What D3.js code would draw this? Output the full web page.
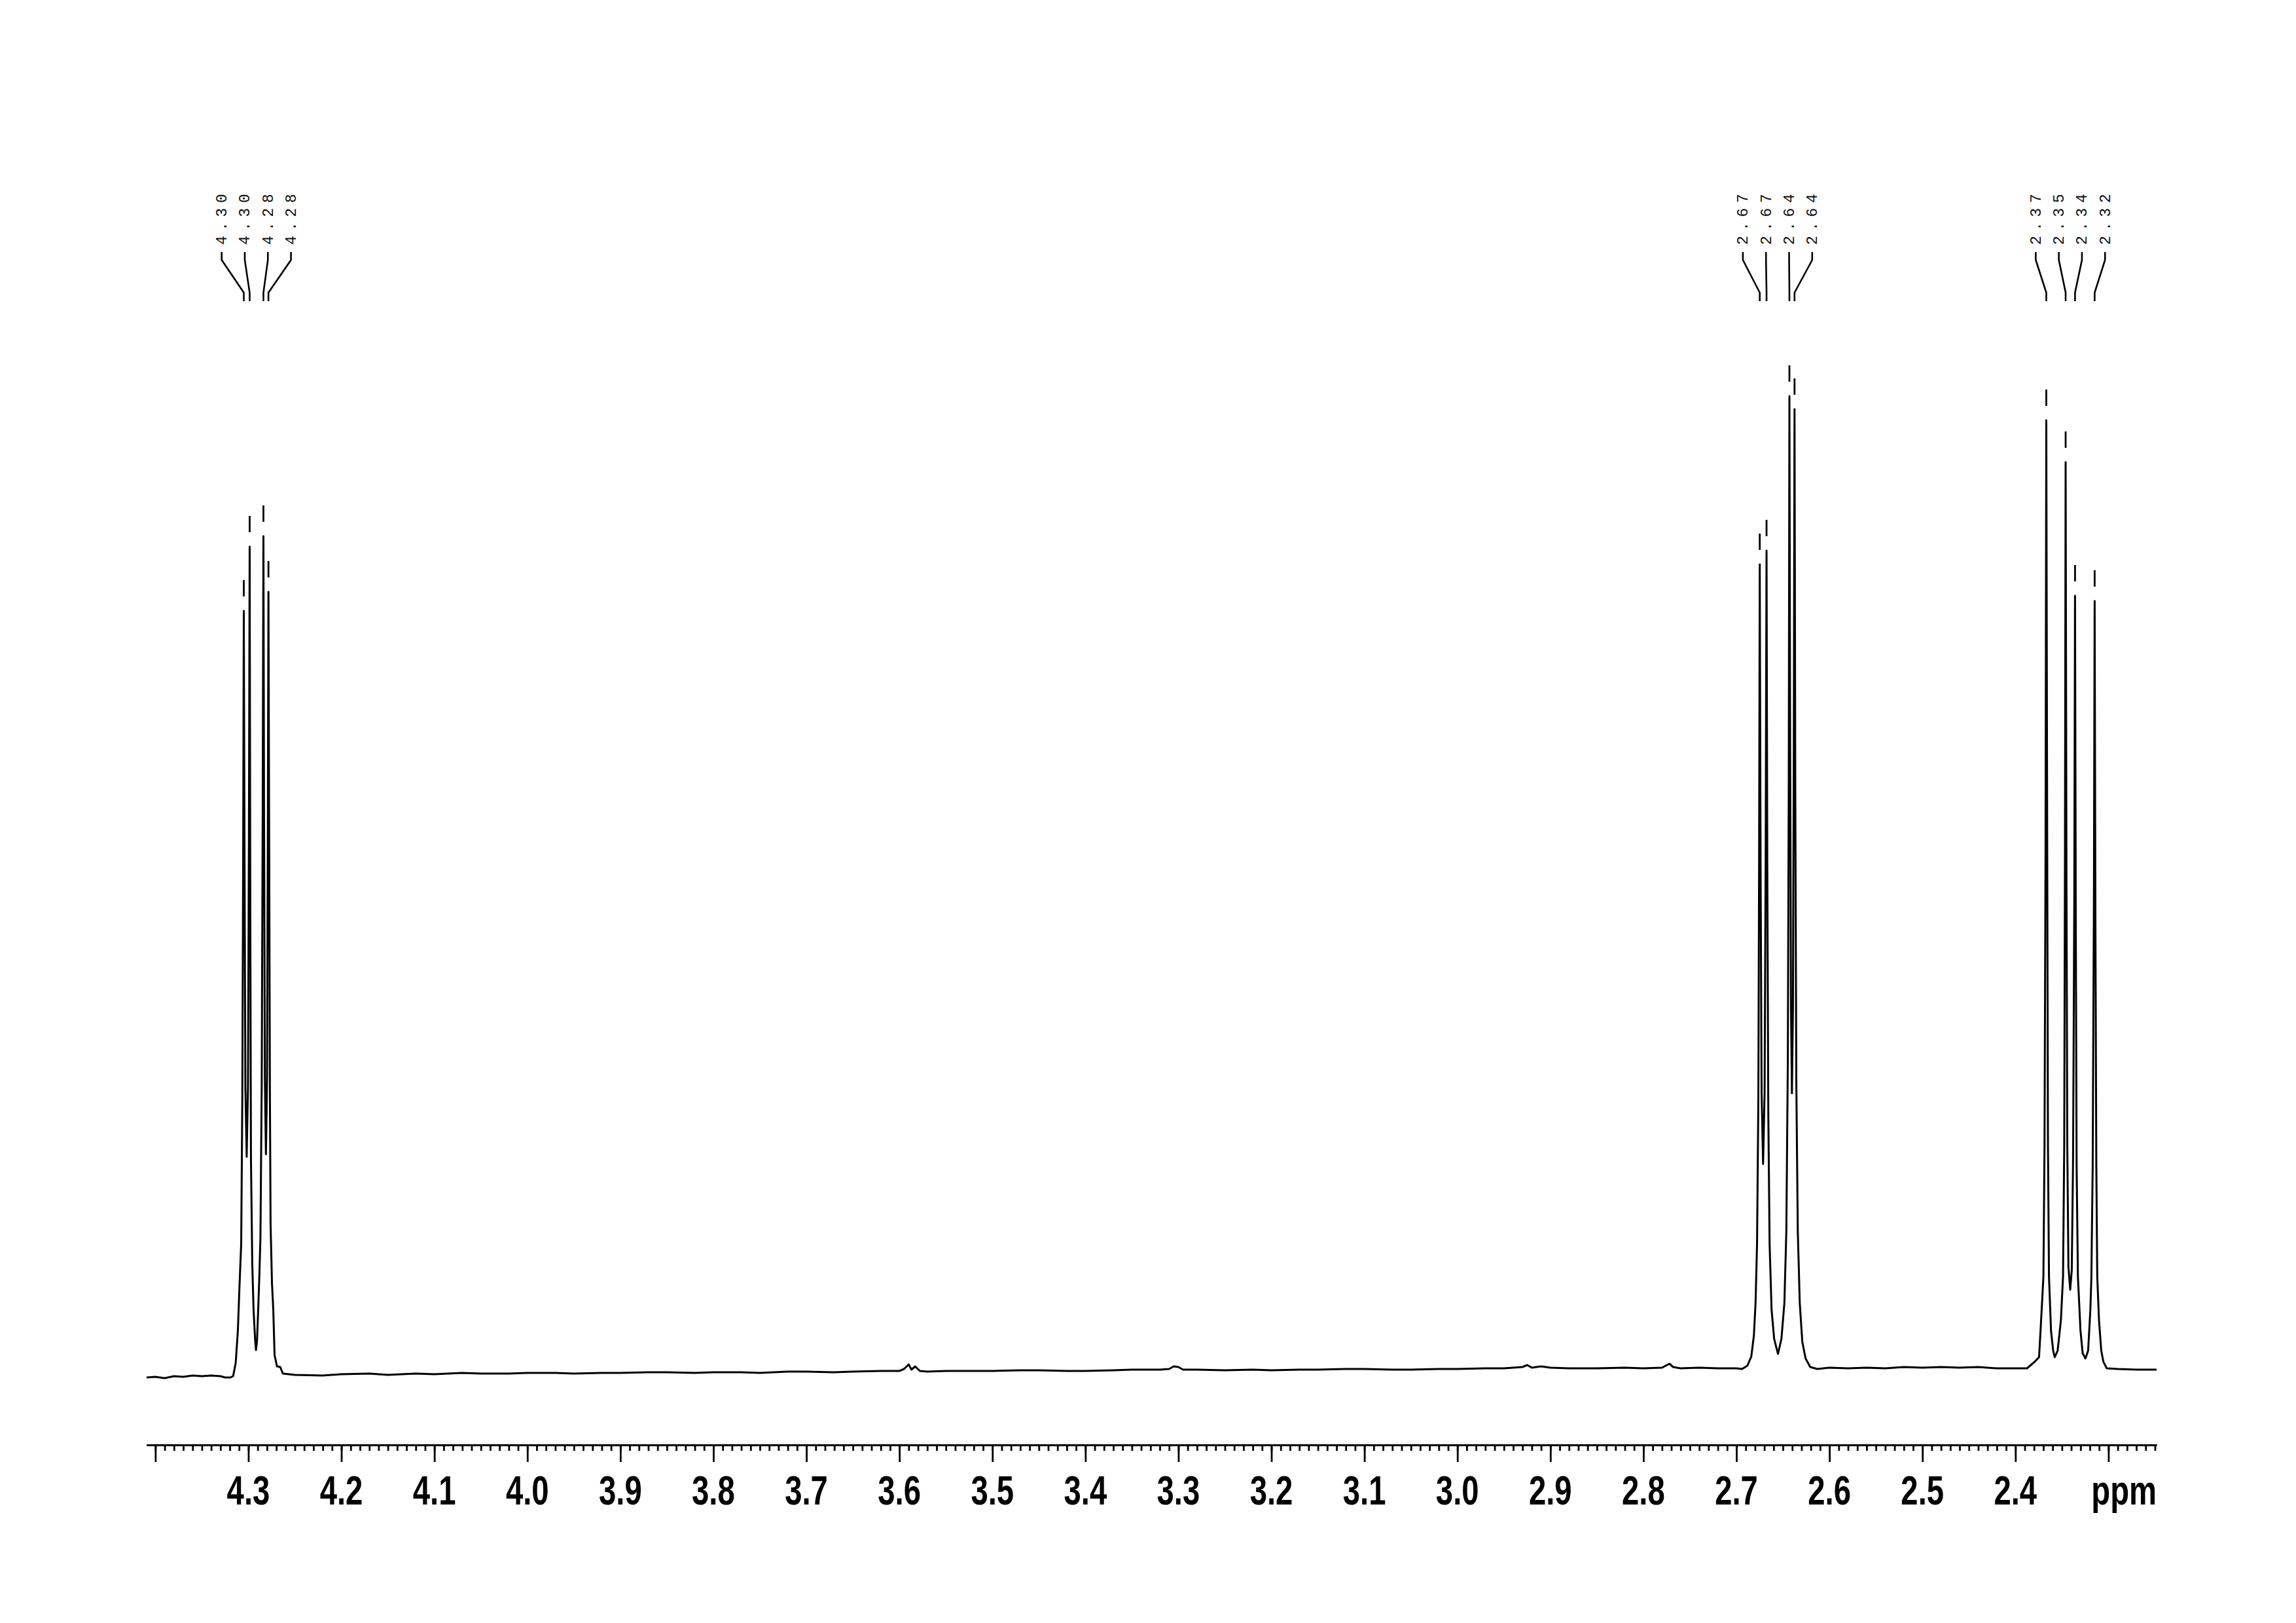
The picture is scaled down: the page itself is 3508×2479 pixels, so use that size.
<!DOCTYPE html>
<html>
<head>
<meta charset="utf-8">
<script src="https://cdn.jsdelivr.net/npm/d3@7"></script>
<style>
  html, body { margin: 0; padding: 0; background: #fff; }
  svg { display: block; }
</style>
</head>
<body>
<script>
// ---------------- DATA ----------------
// spectrum trace: [ppm, intensity]
const traceLeft = [
  [4.4094,-4],[4.40,-3],[4.39,-5],[4.38,-2],[4.37,-3],[4.36,-1],[4.35,-2],[4.34,-1],[4.33,-2],[4.325,-4]
];
const traceCluster1 = [
  [4.3194,-4],[4.3164,-2],[4.3136,18],[4.3113,67],[4.3096,133],[4.3077,200],[4.3065,420],[4.3056,780],
  [4.3049,1167],[4.3041,780],[4.3032,440],[4.3018,333],[4.3004,440],[4.2994,820],[4.2986,1265],
  [4.2979,700],[4.2972,330],[4.2958,170],[4.2944,100],[4.2928,55],[4.2918,38],[4.2907,52],[4.2894,100],
  [4.2882,150],[4.2870,210],[4.2856,450],[4.2846,850],[4.2838,1281],[4.2831,850],[4.2822,450],
  [4.2811,337],[4.2799,450],[4.2791,800],[4.2784,1196],[4.2775,760],[4.2768,420],[4.2761,230],
  [4.2746,140],[4.2732,100],[4.2718,30],[4.2692,13],[4.2657,12],[4.2629,2]
];
const traceMiddle = [
  [4.25,0],[4.22,-1],[4.20,1],[4.17,2],[4.15,0],[4.12,2],[4.10,1],[4.07,3],[4.05,2],[4.02,2],[4.00,3],
  [3.97,3],[3.95,2],[3.92,3],[3.90,3],[3.87,4],[3.85,4],[3.82,3],[3.80,4],[3.77,4],[3.75,3],[3.72,5],
  [3.70,5],[3.67,4],[3.65,5],[3.62,6],[3.60,6],[3.595,9],[3.590,16],[3.587,8],[3.583,13],[3.578,6],
  [3.57,5],[3.55,6],[3.52,6],[3.50,6],[3.47,7],[3.45,7],[3.42,6],[3.40,6],[3.37,7],[3.35,8],[3.32,8],
  [3.31,9],[3.305,13],[3.30,12],[3.295,8],[3.28,8],[3.25,7],[3.22,8],[3.20,7],[3.17,8],[3.15,8],
  [3.12,9],[3.10,9],[3.07,8],[3.05,8],[3.02,9],[3.00,9],[2.97,10],[2.95,10],[2.93,12],[2.925,15],
  [2.92,11],[2.91,13],[2.90,11],[2.88,10],[2.85,10],[2.82,11],[2.80,10],[2.78,11],[2.772,17],
  [2.768,12],[2.76,10],[2.74,11],[2.72,10],[2.70,10]
];
const traceCluster2 = [
  [2.6939,9],[2.6882,14],[2.6840,28],[2.6812,60],[2.6794,110],[2.6778,200],[2.6764,420],[2.6756,780],
  [2.6749,1238],[2.6740,780],[2.6729,430],[2.6713,322],[2.6697,430],[2.6685,800],[2.6676,1259],
  [2.6668,780],[2.6657,400],[2.6643,200],[2.6622,100],[2.6594,55],[2.6553,32],[2.6516,55],[2.6484,110],
  [2.6463,220],[2.6447,480],[2.6437,900],[2.6430,1495],[2.6422,950],[2.6413,560],[2.6403,430],
  [2.6392,560],[2.6383,950],[2.6375,1475],[2.6367,900],[2.6356,450],[2.6340,220],[2.6319,110],
  [2.6291,50],[2.6256,25],[2.6206,12],[2.6129,9]
];
const traceGap = [
  [2.60,11],[2.58,10],[2.56,11],[2.54,10],[2.52,12],[2.50,11],[2.48,12],[2.46,11],[2.44,12],[2.42,10],[2.40,10]
];
const traceCluster3 = [
  [2.3875,10],[2.3793,20],[2.3746,27],[2.3730,67],[2.3711,117],[2.3699,150],[2.3687,350],[2.3676,800],
  [2.3668,1458],[2.3658,800],[2.3650,350],[2.3639,150],[2.3617,67],[2.3594,37],[2.3577,27],[2.3546,37],
  [2.3511,83],[2.3488,150],[2.3475,350],[2.3467,800],[2.3460,1394],[2.3451,750],[2.3442,350],
  [2.3430,165],[2.3411,130],[2.3394,160],[2.3380,330],[2.3367,720],[2.3359,1190],[2.3351,700],
  [2.3342,320],[2.3328,150],[2.3300,67],[2.3277,33],[2.3247,25],[2.3218,37],[2.3194,100],[2.3183,150],
  [2.3169,320],[2.3156,720],[2.3148,1182],[2.3140,700],[2.3130,320],[2.3120,150],[2.3101,83],
  [2.3077,37],[2.3054,20],[2.3018,10]
];
const traceRight = [[2.29,9],[2.27,8],[2.2482,8]];

// picked peaks
const peakPpm    = [4.3049, 4.2986, 4.2838, 4.2784, 2.6749, 2.6676, 2.6430, 2.6375, 2.3668, 2.3460, 2.3359, 2.3148];
const peakHeight = [1167, 1265, 1281, 1196, 1238, 1259, 1495, 1475, 1458, 1394, 1190, 1182];
const peakLabels = ["4.30","4.30","4.28","4.28","2.67","2.67","2.64","2.64","2.37","2.35","2.34","2.32"];
const peakGroups = [0,0,0,0,1,1,1,1,2,2,2,2];

// axis
const majorTicks = [4.4,4.3,4.2,4.1,4.0,3.9,3.8,3.7,3.6,3.5,3.4,3.3,3.2,3.1,3.0,2.9,2.8,2.7,2.6,2.5,2.4,2.3];
const tickLabels = ["4.3","4.2","4.1","4.0","3.9","3.8","3.7","3.6","3.5","3.4","3.3","3.2","3.1","3.0","2.9","2.8","2.7","2.6","2.5","2.4"];
const axisUnit = "ppm";
const axisDomain = [4.4094, 2.2482];

// ---------------- DRAW ----------------
const W = 3508, H = 2479;
const svg = d3.select("body").append("svg").attr("width", W).attr("height", H)
  .attr("viewBox", `0 0 ${W} ${H}`);
svg.append("rect").attr("width", W).attr("height", H).attr("fill", "#fff");

const x = d3.scaleLinear().domain(axisDomain).range([224, 3295]);
const y = d3.scaleLinear().domain([0, 2000]).range([2100, 100]);

const trace = [].concat(traceLeft, traceCluster1, traceMiddle, traceCluster2, traceGap, traceCluster3, traceRight);

svg.append("path")
  .datum(trace)
  .attr("fill", "none")
  .attr("stroke", "#000")
  .attr("stroke-width", 3)
  .attr("stroke-linejoin", "round")
  .attr("d", d3.line().x(d => x(d[0])).y(d => y(d[1])));

// peak markers
const peaks = peakPpm.map((p, i) => ({ppm: p, h: peakHeight[i], label: peakLabels[i], g: peakGroups[i]}));
svg.append("g").selectAll("line").data(peaks).join("line")
  .attr("x1", d => x(d.ppm)).attr("x2", d => x(d.ppm))
  .attr("y1", d => y(d.h) - 47).attr("y2", d => y(d.h) - 22)
  .attr("stroke", "#000").attr("stroke-width", 2.8);

// peak labels with connectors
const groupsIdx = d3.group(peaks.map((d, i) => ({...d, i})), d => d.g);
const labelSpacing = 35.3;
const labelData = [];
for (const [g, arr] of groupsIdx) {
  const cx = d3.mean(arr, d => x(d.ppm));
  arr.forEach((d, k) => {
    labelData.push({...d, lx: cx + (k - (arr.length - 1) / 2) * labelSpacing, px: x(d.ppm)});
  });
}
const lab = svg.append("g");
lab.selectAll("path").data(labelData).join("path")
  .attr("fill", "none").attr("stroke", "#000").attr("stroke-width", 2.6)
  .attr("d", d => `M${d.lx},385 V397 L${d.px},447 V460`);
lab.selectAll("text").data(labelData).join("text")
  .attr("transform", d => `translate(${d.lx + 7.5},374) rotate(-90)`)
  .attr("font-family", "'Liberation Mono', 'DejaVu Sans Mono', monospace")
  .attr("font-size", 23)
  .attr("letter-spacing", 7.5)
  .attr("fill", "#111")
  .text(d => d.label);

// axis
const axisY = 2207;
const minorTicks = d3.range(225, 441).map(v => v / 100);
const gMinor = svg.append("g").attr("transform", `translate(0,${axisY})`)
  .call(d3.axisBottom(x).tickValues(minorTicks).tickSize(9).tickSizeOuter(0).tickFormat(""));
const gMajor = svg.append("g").attr("transform", `translate(0,${axisY})`)
  .call(d3.axisBottom(x).tickValues(majorTicks).tickSize(26).tickSizeOuter(0).tickFormat(""));
[gMinor, gMajor].forEach(g => {
  g.selectAll("path.domain").attr("stroke", "#000").attr("stroke-width", 2.8);
  g.selectAll(".tick line").attr("stroke", "#000").attr("stroke-width", 2.8);
});

const tickVals = tickLabels.map(t => +t);
svg.append("g").selectAll("text").data(tickLabels).join("text")
  .attr("transform", (d, i) => `translate(${x(tickVals[i])},2298) scale(0.75,1)`)
  .attr("text-anchor", "middle")
  .attr("font-family", "'Liberation Sans', Arial, sans-serif")
  .attr("font-weight", "bold")
  .attr("font-size", 63)
  .attr("fill", "#000")
  .text(d => d);

svg.append("text")
  .attr("transform", `translate(${x(axisDomain[1])},2298) scale(0.75,1)`)
  .attr("text-anchor", "end")
  .attr("font-family", "'Liberation Sans', Arial, sans-serif")
  .attr("font-weight", "bold")
  .attr("font-size", 63)
  .attr("fill", "#000")
  .text(axisUnit);
</script>
</body>
</html>
